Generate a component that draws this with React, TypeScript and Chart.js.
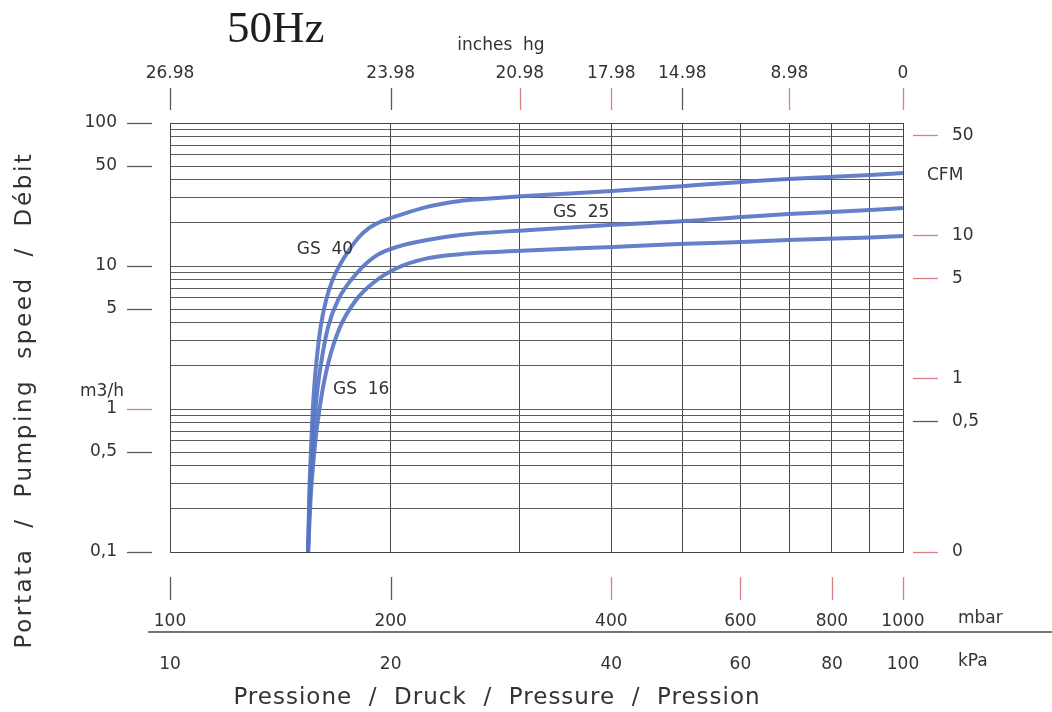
import { useEffect, useRef } from 'react';
import { Chart, registerables } from 'chart.js';

Chart.register(...registerables);

// ---------- data ----------
const gs40Pressure = [154.3, 154.9, 155.5, 156.2, 157.1, 158.5, 160.5, 163.3, 166.6, 170.6, 175.5, 181.1, 186.8, 194.6, 204.1, 224.2, 248.7, 267.3, 305, 401, 504, 603, 697, 795, 902, 1000];
const gs40Flow = [0.1, 0.259, 0.44, 0.75, 1.29, 2.2, 3.74, 5.78, 7.98, 10.2, 12.9, 15.95, 18.4, 20.6, 22.4, 25.9, 28.5, 29.4, 30.9, 33.4, 36.3, 38.7, 40.6, 41.9, 43.3, 44.7];

const gs25Pressure = [154.3, 155.2, 156.2, 157.2, 158.7, 161.0, 164.3, 169.5, 179.9, 191.6, 204.1, 224.2, 248.7, 306.9, 402.2, 504, 603, 697, 902, 1000];
const gs25Flow = [0.1, 0.259, 0.44, 0.75, 1.29, 2.2, 3.74, 5.78, 8.93, 11.9, 13.6, 15.2, 16.5, 17.8, 19.4, 20.6, 22.0, 23.1, 24.6, 25.4];

const gs16Pressure = [154.3, 155.7, 157.0, 158.7, 161.2, 164.8, 170.6, 179.4, 189.2, 204.1, 224.2, 248.7, 273.3, 306.9, 402.2, 504, 603, 697, 902, 1000];
const gs16Flow = [0.1, 0.259, 0.44, 0.75, 1.29, 2.2, 3.74, 5.78, 7.6, 9.68, 11.3, 12.1, 12.5, 12.83, 13.6, 14.3, 14.7, 15.2, 15.8, 16.2];

const mbarTickValues = [100, 200, 400, 600, 800, 1000];
const mbarTickLabels = ['100', '200', '400', '600', '800', '1000'];
const kpaTickLabels = ['10', '20', '40', '60', '80', '100'];
const inchesTickValues = [100, 200, 300, 400, 500, 700, 1000];
const inchesTickLabels = ['26.98', '23.98', '20.98', '17.98', '14.98', '8.98', '0'];
const flowTickValues = [0.1, 0.5, 1, 5, 10, 50, 100];
const flowTickLabels = ['0,1', '0,5', '1', '5', '10', '50', '100'];
const cfmTickValues = [0, 0.5, 1, 5, 10, 50];
const cfmTickLabels = ['0', '0,5', '1', '5', '10', '50'];
const CFM_PER_M3H = 0.61;

// ---------- styles ----------
const FONT = '"DejaVu Sans", sans-serif';
const TEXT = '#333333';
const DARK = '#5a5a5a';
const RED = '#df7c84';
const CURVE = 'rgba(86,117,196,0.92)';
const inchesTickRed = [false, false, true, true, false, true, true];
const mbarTickRed = [false, false, true, true, true, true];
const flowTickRed = [false, false, true, false, false, false, false];
const cfmTickRed = [true, false, true, true, true, true];

const near = (a: number, b: number) => Math.abs(a - b) <= Math.abs(b) * 1e-6;

function pts(p: number[], f: number[]) {
  return p.map((x, i) => ({ x, y: f[i] }));
}

const decorations = {
  id: 'decorations',
  afterDraw(chart: any) {
    const ctx = chart.ctx as CanvasRenderingContext2D;
    const a = chart.chartArea;
    const sx = chart.scales.x;
    const st = chart.scales.xTop;
    const sy = chart.scales.y;
    const sy2 = chart.scales.y2;
    ctx.save();
    const tick = (x1: number, y1: number, x2: number, y2: number, red: boolean) => {
      ctx.beginPath();
      ctx.strokeStyle = red ? RED : DARK;
      ctx.lineWidth = 1.3;
      ctx.moveTo(x1, y1);
      ctx.lineTo(x2, y2);
      ctx.stroke();
    };
    inchesTickValues.forEach((v, i) => {
      const px = Math.round(st.getPixelForValue(v)) + 0.5;
      tick(px, a.top - 35, px, a.top - 13, inchesTickRed[i]);
    });
    mbarTickValues.forEach((v, i) => {
      const px = Math.round(sx.getPixelForValue(v)) + 0.5;
      tick(px, a.bottom + 25, px, a.bottom + 48, mbarTickRed[i]);
    });
    flowTickValues.forEach((v, i) => {
      const py = Math.round(sy.getPixelForValue(v)) + 0.5;
      tick(a.left - 43, py, a.left - 18, py, flowTickRed[i]);
    });
    cfmTickValues.forEach((v, i) => {
      const py = Math.round(sy2.getPixelForValue(v === 0 ? sy2.min : v)) + 0.5;
      tick(a.right + 10, py, a.right + 35, py, cfmTickRed[i]);
    });

    // separator between mbar and kPa rows
    ctx.beginPath();
    ctx.strokeStyle = '#444';
    ctx.lineWidth = 1.5;
    ctx.moveTo(a.left - 22, a.bottom + 80);
    ctx.lineTo(chart.width, a.bottom + 80);
    ctx.stroke();

    const text = (s: string, x: number, y: number, align: CanvasTextAlign, font: string, spacing = '0px') => {
      ctx.font = font;
      ctx.fillStyle = TEXT;
      ctx.textAlign = align;
      ctx.textBaseline = 'middle';
      (ctx as any).letterSpacing = spacing;
      ctx.fillText(s, x, y);
      (ctx as any).letterSpacing = '0px';
    };

    // title
    ctx.font = '45px "Liberation Serif", "DejaVu Serif", serif';
    ctx.fillStyle = '#1e1e1e';
    ctx.textAlign = 'left';
    ctx.textBaseline = 'alphabetic';
    ctx.fillText('50Hz', 227, 42);

    const f17 = `17px ${FONT}`;
    text('inches  hg', 501, 46, 'center', f17);
    text('m3/h', 102, 392, 'center', f17);
    text('CFM', a.right + 24, 176, 'left', f17);
    text('mbar', a.right + 55, a.bottom + 67, 'left', f17);
    text('kPa', a.right + 55, a.bottom + 110, 'left', f17);

    const curveLabels = [
      { s: 'GS  40', p: 162.7, q: 13.1 },
      { s: 'GS  25', p: 363.8, q: 23.5 },
      { s: 'GS  16', p: 182.3, q: 1.36 },
    ];
    curveLabels.forEach((c) => {
      text(c.s, sx.getPixelForValue(c.p), sy.getPixelForValue(c.q), 'center', f17);
    });

    const f23 = `23px ${FONT}`;
    text('Pressione  /  Druck  /  Pressure  /  Pression', 497, 698, 'center', f23, '1px');
    ctx.save();
    ctx.translate(25, 400);
    ctx.rotate(-Math.PI / 2);
    text('Portata  /  Pumping  speed  /  Débit', 0, 0, 'center', f23, '2.6px');
    ctx.restore();

    ctx.restore();
  },
};

const xGrid: number[] = [];
for (let v = 100; v <= 1000; v += 100) xGrid.push(v);
const yGrid: number[] = [];
[0.1, 1, 10].forEach((d) => {
  for (let k = 1; k <= 9; k++) yGrid.push(d * k);
});
yGrid.push(100);

export default function App() {
  const ref = useRef<HTMLCanvasElement | null>(null);
  useEffect(() => {
    if (!ref.current) return;
    const tickFont = { family: FONT, size: 17 };
    const chart = new Chart(ref.current, {
      type: 'line',
      data: {
        datasets: [
          { label: 'GS 40', data: pts(gs40Pressure, gs40Flow) },
          { label: 'GS 25', data: pts(gs25Pressure, gs25Flow) },
          { label: 'GS 16', data: pts(gs16Pressure, gs16Flow) },
        ].map((d) => ({
          ...d,
          borderColor: CURVE,
          borderWidth: 4,
          pointRadius: 0,
          fill: false,
          cubicInterpolationMode: 'monotone' as const,
          xAxisID: 'x',
          yAxisID: 'y',
        })),
      },
      options: {
        animation: false,
        responsive: false,
        devicePixelRatio: 1,
        layout: { padding: 0 },
        plugins: { legend: { display: false }, tooltip: { enabled: false }, title: { display: false } },
        scales: {
          x: {
            type: 'logarithmic',
            position: 'bottom',
            weight: 1,
            min: 100,
            max: 1000,
            afterBuildTicks: (s: any) => { s.ticks = xGrid.map((value) => ({ value })); },
            afterFit: (s: any) => { s.height = 80; },
            grid: { color: '#4a4a4a', lineWidth: 1, drawTicks: false },
            border: { color: '#444', width: 1 },
            ticks: {
              autoSkip: false,
              maxRotation: 0,
              padding: 59,
              color: TEXT,
              font: tickFont,
              callback: (v: any) => {
                const i = mbarTickValues.findIndex((t) => near(Number(v), t));
                return i >= 0 ? mbarTickLabels[i] : '';
              },
            },
          },
          x2: {
            type: 'logarithmic',
            position: 'bottom',
            weight: 2,
            min: 100,
            max: 1000,
            afterBuildTicks: (s: any) => { s.ticks = mbarTickValues.map((value) => ({ value })); },
            afterFit: (s: any) => { s.height = 80; },
            grid: { display: false, drawTicks: false },
            border: { display: false },
            ticks: {
              autoSkip: false,
              maxRotation: 0,
              padding: 22,
              color: TEXT,
              font: tickFont,
              callback: (v: any) => {
                const i = mbarTickValues.findIndex((t) => near(Number(v), t));
                return i >= 0 ? kpaTickLabels[i] : '';
              },
            },
          },
          xTop: {
            type: 'logarithmic',
            position: 'top',
            min: 100,
            max: 1000,
            afterBuildTicks: (s: any) => { s.ticks = inchesTickValues.map((value) => ({ value })); },
            afterFit: (s: any) => { s.height = 123; },
            grid: { display: false, drawTicks: false },
            border: { display: true, color: '#444', width: 1 },
            ticks: {
              autoSkip: false,
              maxRotation: 0,
              padding: 39,
              color: TEXT,
              font: tickFont,
              callback: (v: any) => {
                const i = inchesTickValues.findIndex((t) => near(Number(v), t));
                return i >= 0 ? inchesTickLabels[i] : '';
              },
            },
          },
          y: {
            type: 'logarithmic',
            position: 'left',
            min: 0.1,
            max: 100,
            afterBuildTicks: (s: any) => { s.ticks = yGrid.map((value) => ({ value })); },
            afterFit: (s: any) => { s.width = 170; },
            grid: { color: '#5c5c5c', lineWidth: 1, drawTicks: false },
            border: { color: '#444', width: 1 },
            ticks: {
              autoSkip: false,
              padding: 53,
              color: TEXT,
              font: tickFont,
              callback: (v: any) => {
                const i = flowTickValues.findIndex((t) => near(Number(v), t));
                return i >= 0 ? flowTickLabels[i] : '';
              },
            },
          },
          y2: {
            type: 'logarithmic',
            position: 'right',
            min: 0.1 * CFM_PER_M3H,
            max: 100 * CFM_PER_M3H,
            afterBuildTicks: (s: any) => {
              s.ticks = cfmTickValues.map((v) => ({ value: v === 0 ? 0.1 * CFM_PER_M3H : v }));
            },
            afterFit: (s: any) => { s.width = 149; },
            grid: { display: false, drawTicks: false },
            border: { display: true, color: '#444', width: 1 },
            ticks: {
              autoSkip: false,
              padding: 49,
              color: TEXT,
              font: tickFont,
              callback: (v: any) => {
                if (near(Number(v), 0.1 * CFM_PER_M3H)) return cfmTickLabels[0];
                const i = cfmTickValues.findIndex((t) => t > 0 && near(Number(v), t));
                return i >= 0 ? cfmTickLabels[i] : '';
              },
            },
          },
        },
      },
      plugins: [decorations],
    } as any);
    return () => chart.destroy();
  }, []);

  return (
    <div style={{ position: 'absolute', left: 0, top: 0, width: 1052, height: 712, background: '#ffffff' }}>
      <canvas ref={ref} width={1052} height={712} style={{ display: 'block' }} />
    </div>
  );
}
